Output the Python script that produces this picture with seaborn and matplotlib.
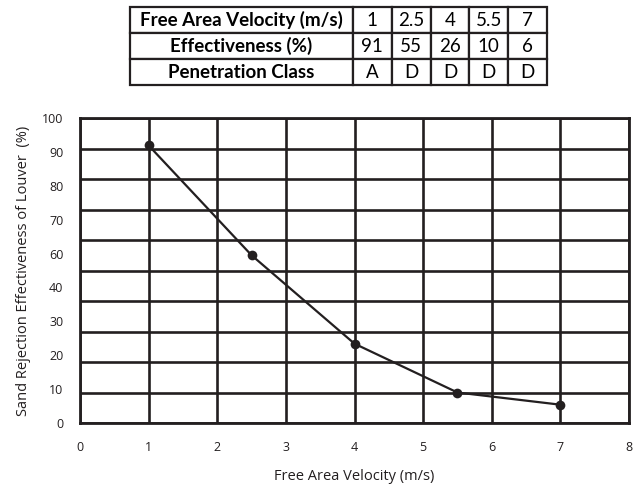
import numpy as np
import pandas as pd
import matplotlib
matplotlib.use("Agg")
import matplotlib.pyplot as plt
import seaborn as sns

velocity = [1, 2.5, 4, 5.5, 7]
effectiveness = [91, 55, 26, 10, 6]
pen_class = ["A", "D", "D", "D", "D"]
row_names = ["Free Area Velocity (m/s)", "Effectiveness (%)", "Penetration Class"]

x_tick_labels = ["0", "1", "2", "3", "4", "5", "6", "7", "8"]
y_tick_labels = ["0", "10", "20", "30", "40", "60", "70", "80", "90", "100"]

ink = "#231f20"

sns.set_style("white")
plt.rcParams["font.family"] = ["Open Sans", "DejaVu Sans"]

W, H = 638, 484
fig = plt.figure(figsize=(W / 100, H / 100), dpi=100)

# main chart
ax = fig.add_axes([80 / W, 1 - 423 / H, 549 / W, 305 / H])
df = pd.DataFrame({"v": velocity, "e": effectiveness})
sns.lineplot(data=df, x="v", y="e", ax=ax, color=ink, linewidth=1.6,
             marker="o", markersize=7, markeredgewidth=0, zorder=3)

# y: grid on major ticks, labels on minor ticks (labels don't sit on gridlines)
ax.yaxis.remove_overlapping_locs = False
ax.set_xticks(np.arange(0, 9, 1), x_tick_labels)
ax.set_yticks(np.arange(0, 101, 10))
ax.set_yticklabels([])
ax.set_yticks(np.linspace(0, 100, len(y_tick_labels)), y_tick_labels, minor=True)
ax.set_xlim(0, 8)
ax.set_ylim(0, 100)
ax.tick_params(which="both", length=0)
ax.tick_params(axis="x", pad=13, labelsize=9, labelcolor=ink)
ax.tick_params(which="minor", axis="y", pad=12, labelsize=9, labelcolor=ink)

ax.grid(True, which="major", color=ink, linewidth=1.9)
ax.set_axisbelow(True)
for s in ax.spines.values():
    s.set_color(ink)
    s.set_linewidth(2)
    s.set_visible(True)

ax.set_xlabel("Free Area Velocity (m/s)", fontsize=10.5, color=ink, labelpad=11)
ax.set_ylabel("Sand Rejection Effectiveness of Louver  (%)", fontsize=10.5,
              color=ink, labelpad=8)

# table on top
tax = fig.add_axes([130 / W, 1 - 85 / H, 417 / W, 78 / H])
tax.axis("off")
cells = [
    [row_names[0]] + [f"{v:g}" for v in velocity],
    [row_names[1]] + [str(e) for e in effectiveness],
    [row_names[2]] + pen_class,
]
first_w = 223 / 417
rest_w = (1 - first_w) / len(velocity)
tbl = tax.table(cellText=cells, bbox=[0, 0, 1, 1], cellLoc="center",
                colWidths=[first_w] + [rest_w] * len(velocity))
tbl.auto_set_font_size(False)
for (r, c), cell in tbl.get_celld().items():
    cell.set_edgecolor(ink)
    cell.set_linewidth(1.6)
    t = cell.get_text()
    t.set_fontsize(13.5)
    t.set_color("black")
    t.set_fontfamily(["Lato", "DejaVu Sans"])
    if c == 0:
        t.set_fontweight("bold")

fig.savefig("out.png", dpi=100)
